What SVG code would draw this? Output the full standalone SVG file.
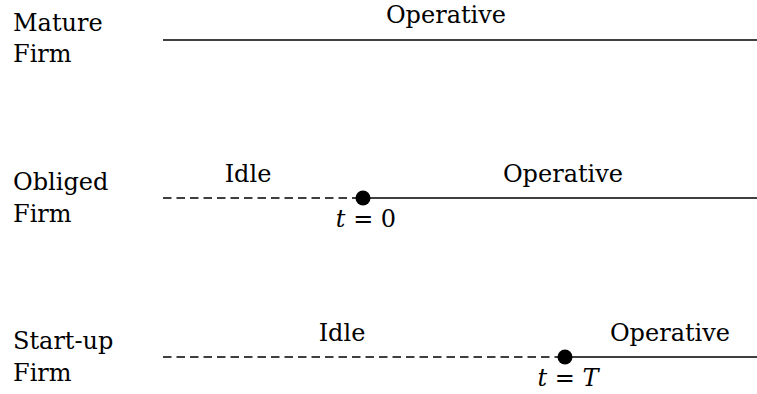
<svg xmlns="http://www.w3.org/2000/svg" width="757" height="394" viewBox="0 0 757 394">
<style>
text{font-size:24px;fill:#000}
.m{text-anchor:middle}
.solid{stroke:#000;stroke-width:1.4;fill:none}
.dash{stroke:#000;stroke-width:1.4;fill:none;stroke-dasharray:8.5 5}
.i{font-style:italic}
</style>
<rect width="757" height="394" fill="#fff"/>
<g font-family="'DejaVu Serif', 'Liberation Serif', 'Times New Roman', serif">
<g id="mature">
<text x="13" y="31">Mature</text>
<text x="13" y="62">Firm</text>
<text class="m" x="446" y="23">Operative</text>
</g>
<g id="obliged">
<text x="13" y="190">Obliged</text>
<text x="13" y="222">Firm</text>
<text class="m" x="248" y="182">Idle</text>
<text class="m" x="563" y="182">Operative</text>
<circle cx="363" cy="198" r="7.5"/>
<text class="m" x="366" y="227"><tspan class="i">t</tspan> = 0</text>
</g>
<g id="startup">
<text x="13" y="349">Start-up</text>
<text x="13" y="381">Firm</text>
<text class="m" x="342" y="341">Idle</text>
<text class="m" x="670" y="341">Operative</text>
<circle cx="565" cy="357" r="7.5"/>
<text class="m" x="568" y="386"><tspan class="i">t</tspan> = <tspan class="i">T</tspan></text>
</g>
</g>
<g id="connectors">
<line class="solid" x1="163" y1="40" x2="757" y2="40"/>
<line class="dash" x1="163" y1="198" x2="363" y2="198"/>
<line class="solid" x1="363" y1="198" x2="757" y2="198"/>
<line class="dash" x1="163" y1="357" x2="565" y2="357"/>
<line class="solid" x1="565" y1="357" x2="757" y2="357"/>
</g>
</svg>
